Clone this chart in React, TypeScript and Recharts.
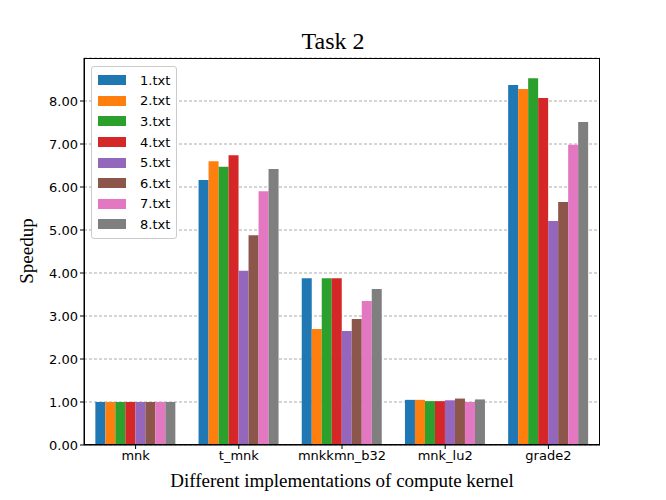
import { Bar, BarChart, CartesianGrid, XAxis, YAxis } from "recharts";

const kernels = ["mnk", "t_mnk", "mnkkmn_b32", "mnk_lu2", "grade2"];
const files = ["1.txt", "2.txt", "3.txt", "4.txt", "5.txt", "6.txt", "7.txt", "8.txt"];
const colors = ["#1f77b4", "#ff7f0e", "#2ca02c", "#d62728", "#9467bd", "#8c564b", "#e377c2", "#7f7f7f"];
// speedup per file, one value per kernel
const speedups = [
  [1.0, 6.16, 3.88, 1.05, 8.37],
  [1.0, 6.6, 2.7, 1.05, 8.28],
  [1.0, 6.47, 3.88, 1.02, 8.53],
  [1.0, 6.74, 3.88, 1.02, 8.07],
  [1.0, 4.05, 2.65, 1.04, 5.21],
  [1.0, 4.88, 2.93, 1.08, 5.65],
  [1.0, 5.9, 3.35, 1.0, 6.98],
  [1.0, 6.42, 3.63, 1.06, 7.51],
];
const yTicks = [0, 1, 2, 3, 4, 5, 6, 7, 8];

const data = kernels.map((k, i) => {
  const row: Record<string, string | number> = { kernel: k };
  files.forEach((f, j) => (row[f] = speedups[j][i]));
  return row;
});

const sans = "DejaVu Sans, sans-serif";
const serif = "Liberation Serif, DejaVu Serif, serif";

export default function App() {
  return (
    <div style={{ position: "absolute", left: 0, top: 0, width: 666, height: 500, background: "white" }}>
      <div style={{ position: "absolute", top: 28, width: 666, textAlign: "center", fontFamily: serif, fontSize: 24 }}>
        Task 2
      </div>
      <div style={{ position: "absolute", top: 470, left: 84, width: 516, textAlign: "center", fontFamily: serif, fontSize: 19 }}>
        Different implementations of compute kernel
      </div>
      <div
        style={{
          position: "absolute", left: 27, top: 251, fontFamily: serif, fontSize: 19,
          transform: "translate(-50%,-50%) rotate(-90deg)", whiteSpace: "nowrap",
        }}
      >
        Speedup
      </div>
      <BarChart
        width={666}
        height={500}
        data={data}
        margin={{ top: 58, right: 66, bottom: 0, left: 0 }}
        barCategoryGap="11%"
        barGap={0}
      >
        <CartesianGrid vertical={false} stroke="#888" strokeDasharray="3 2" strokeWidth={0.7} />
        <XAxis
          dataKey="kernel"
          stroke="#000"
          tick={{ fill: "#000", fontFamily: sans, fontSize: 13 }}
          tickSize={4}
          height={55}
        />
        <YAxis
          domain={[0, 9]}
          ticks={yTicks}
          tickFormatter={(v) => v.toFixed(2)}
          stroke="#000"
          tick={{ fill: "#000", fontFamily: sans, fontSize: 13 }}
          tickSize={4}
          width={84}
        />
        {files.map((f, i) => (
          <Bar key={f} dataKey={f} fill={colors[i]} isAnimationActive={false} />
        ))}
      </BarChart>
      <div style={{ position: "absolute", left: 84, top: 58, width: 516, height: 387, border: "1px solid #000", boxSizing: "border-box", pointerEvents: "none" }} />
      <div
        style={{
          position: "absolute", left: 91, top: 66, border: "1px solid #ccc", borderRadius: 3, background: "white",
          padding: "3px 6px", fontFamily: sans, fontSize: 13,
        }}
      >
        {files.map((f, i) => (
          <div key={f} style={{ display: "flex", alignItems: "center", height: 20.6 }}>
            <span style={{ width: 28, height: 10, background: colors[i], display: "inline-block", marginRight: 14 }} />
            {f}
          </div>
        ))}
      </div>
    </div>
  );
}
